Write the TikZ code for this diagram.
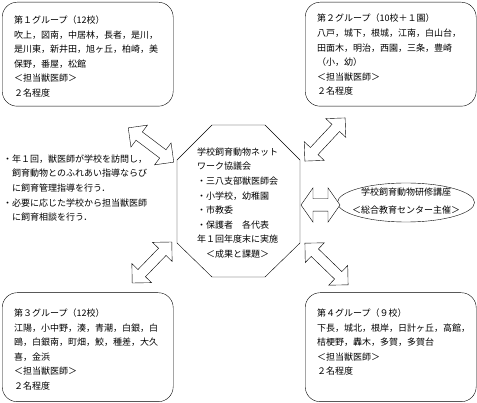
\documentclass[tikz,border=0pt]{standalone}
\usepackage{fontspec}
\setmainfont{Noto Sans CJK JP}
\usetikzlibrary{shapes.geometric,shapes.arrows}

\begin{document}
\begin{tikzpicture}[x=1pt, y=-1pt,
        every node/.style={font=\fontsize{9pt}{14.6pt}\selectfont, inner sep=0pt},
        grp/.style={draw, rounded corners=15pt, minimum width=171pt, anchor=north west},
        txt/.style={anchor=north west, align=left},
        dbl/.style={double arrow, draw, fill=white, inner sep=5pt, double arrow head extend=8.5pt}]
        \useasboundingbox (0,0) rectangle (477,403);
        % groups
        \node[grp, minimum height=104pt] (g1) at (2,2) {};
        \node[grp, minimum height=104pt] (g2) at (305,2) {};
        \node[grp, minimum height=109pt] (g3) at (2,292.5) {};
        \node[grp, minimum height=109pt] (g4) at (305,292.5) {};
        \node[txt] (t1) at (14,15.5) {第１グループ（12校）\\吹上，図南，中居林，長者，是川，\\是川東，新井田，旭ヶ丘，柏崎，美\\保野，番屋，松館\\＜担当獣医師＞\\２名程度};
        \node[txt] (t2) at (317,14) {第２グループ（10校＋１園）\\八戸，城下，根城，江南，白山台，\\田面木，明治，西園，三条，豊崎\\（小，幼）\\＜担当獣医師＞\\２名程度};
        \node[txt] (t3) at (14,308.5) {第３グループ（12校）\\江陽，小中野，湊，青潮，白銀，白\\鴎，白銀南，町畑，鮫，種差，大久\\喜，金浜\\＜担当獣医師＞\\２名程度};
        \node[txt] (t4) at (317,308.5) {第４グループ（９校）\\下長，城北，根岸，日計ヶ丘，高館，\\桔梗野，轟木，多賀，多賀台\\＜担当獣医師＞\\２名程度};
        % council
        \draw (212,125) -- (265,125) -- (300,160) -- (300,243) -- (265,277) -- (212,277) -- (177,243) -- (177,160) -- cycle;
        \node[txt] (kyogi) at (197,147.5) {学校飼育動物ネット\\ワーク協議会\\・三八支部獣医師会\\・小学校，幼稚園\\・市教委\\・保護者　各代表\\年１回年度末に実施\\　＜成果と課題＞};
        \node[txt] (shido) at (3,154.5) {・年１回，獣医師が学校を訪問し，\\　飼育動物とのふれあい指導ならび\\　に飼育管理指導を行う．\\・必要に応じた学校から担当獣医師\\　に飼育相談を行う．};
        \node[draw, ellipse, minimum width=137pt, minimum height=39pt] (kouza) at (406,202.5) {};
        \node[align=center] (kouzatxt) at (406,201) {学校飼育動物研修講座\\[3.4pt]＜総合教育センター主催＞};
        % arrows
        \node[dbl, rotate=-37, minimum height=57pt] (a1) at (151,145) {};
        \node[dbl, rotate=47, minimum height=59pt] (a2) at (325,139.5) {};
        \node[dbl, rotate=46, minimum height=57pt] (a3) at (152,262.5) {};
        \node[dbl, rotate=-44, minimum height=60pt] (a4) at (326.5,264) {};
        \node[dbl, minimum height=39pt, inner sep=6pt, double arrow head extend=11pt, double arrow tip angle=110] (a5) at (320.5,205) {};
    \end{tikzpicture}
\end{document}
